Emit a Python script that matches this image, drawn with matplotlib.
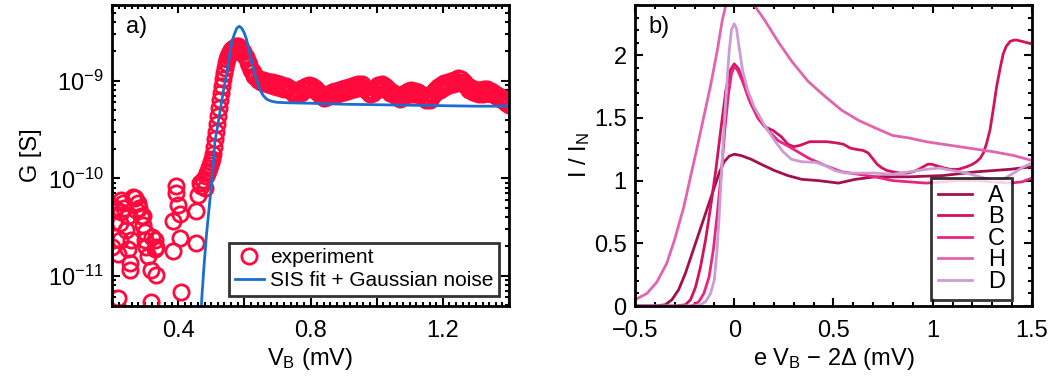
import numpy as np
import matplotlib
import matplotlib.pyplot as plt
from matplotlib.ticker import MultipleLocator, FixedLocator, NullFormatter

matplotlib.use('Agg')

# ---- panel a) data: bias voltage (mV) and log10 of conductance (S) ----
# scattered noise floor below the gap edge
low_vb = [0.200, 0.205, 0.210, 0.218, 0.218, 0.223, 0.223, 0.227, 0.227, 0.232,
          0.237, 0.242, 0.248, 0.248, 0.253, 0.253, 0.257, 0.263, 0.268, 0.272,
          0.277, 0.282, 0.288, 0.293, 0.293, 0.299, 0.299, 0.304, 0.309, 0.318,
          0.318, 0.322, 0.329, 0.329, 0.333, 0.334, 0.384, 0.384, 0.394, 0.394,
          0.399, 0.405, 0.405, 0.408, 0.454, 0.454, 0.460, 0.465, 0.470, 0.475,
          0.480]
low_log10G = [-10.70, -10.45, -10.30, -11.23, -10.78, -10.63, -10.46, -10.35, -10.22, -10.25,
              -10.30, -10.53, -10.73, -10.39, -10.87, -10.94, -10.63, -10.19, -10.20, -10.33,
              -10.25, -10.30, -10.39, -10.39, -10.48, -10.55, -10.63, -10.70, -10.80, -10.94,
              -11.27, -10.60, -10.63, -10.73, -10.70, -10.99, -10.75, -10.44, -10.08, -10.15,
              -10.27, -10.37, -10.61, -11.17, -10.34, -10.66, -10.17, -10.05, -10.08, -10.02,
              -10.10]

# gap edge and coherence peak
rise_vb = [0.485, 0.488, 0.491, 0.494, 0.497, 0.500, 0.503, 0.506, 0.509, 0.512,
           0.515, 0.518, 0.521, 0.524, 0.527, 0.530, 0.533, 0.536, 0.539, 0.542,
           0.545, 0.548, 0.551, 0.554, 0.557, 0.560, 0.564, 0.568, 0.572, 0.576,
           0.580, 0.584, 0.588, 0.592, 0.596]
rise_log10G = [-9.98, -9.95, -9.92, -9.89, -9.86, -9.83, -9.80, -9.75, -9.68, -9.60,
               -9.52, -9.44, -9.36, -9.28, -9.20, -9.12, -9.05, -8.98, -8.92, -8.87,
               -8.82, -8.78, -8.75, -8.72, -8.70, -8.68, -8.67, -8.66, -8.65, -8.64,
               -8.64, -8.65, -8.66, -8.68, -8.70]

# above the gap
high_vb = [0.600, 0.605, 0.610, 0.615, 0.620, 0.625, 0.630, 0.635, 0.640, 0.645,
           0.650, 0.655, 0.660, 0.665, 0.670, 0.675, 0.680, 0.685, 0.690, 0.695,
           0.700, 0.705, 0.710, 0.715, 0.720, 0.725, 0.730, 0.735, 0.740, 0.745,
           0.750, 0.755, 0.760, 0.765, 0.770, 0.775, 0.780, 0.785, 0.790, 0.795,
           0.800, 0.805, 0.810, 0.815, 0.820, 0.825, 0.830, 0.835, 0.840, 0.845,
           0.850, 0.855, 0.860, 0.865, 0.870, 0.875, 0.880, 0.885, 0.890, 0.895,
           0.900, 0.905, 0.910, 0.915, 0.920, 0.925, 0.930, 0.935, 0.940, 0.945,
           0.950, 0.955, 0.960, 0.965, 0.970, 0.975, 0.980, 0.985, 0.990, 0.995,
           1.000, 1.005, 1.010, 1.015, 1.020, 1.025, 1.030, 1.035, 1.040, 1.045,
           1.050, 1.055, 1.060, 1.065, 1.070, 1.075, 1.080, 1.085, 1.090, 1.095,
           1.100, 1.105, 1.110, 1.115, 1.120, 1.125, 1.130, 1.135, 1.140, 1.145,
           1.150, 1.155, 1.160, 1.165, 1.170, 1.175, 1.180, 1.185, 1.190, 1.195,
           1.200, 1.205, 1.210, 1.215, 1.220, 1.225, 1.230, 1.235, 1.240, 1.245,
           1.250, 1.255, 1.260, 1.265, 1.270, 1.275, 1.280, 1.285, 1.290, 1.295,
           1.300, 1.305, 1.310, 1.315, 1.320, 1.325, 1.330, 1.335, 1.340, 1.345,
           1.350, 1.355, 1.360, 1.365, 1.370, 1.375, 1.380, 1.385, 1.390, 1.395,
           1.400]
high_log10G = [-8.73, -8.76, -8.81, -8.84, -8.89, -8.91, -8.95, -8.96, -8.99, -8.98,
               -9.01, -8.99, -9.02, -9.00, -9.03, -9.01, -9.04, -9.01, -9.05, -9.02,
               -9.06, -9.03, -9.07, -9.04, -9.08, -9.05, -9.08, -9.07, -9.10, -9.10,
               -9.13, -9.11, -9.14, -9.10, -9.12, -9.07, -9.09, -9.05, -9.07, -9.04,
               -9.07, -9.05, -9.09, -9.07, -9.11, -9.11, -9.15, -9.14, -9.18, -9.15,
               -9.17, -9.13, -9.15, -9.11, -9.14, -9.10, -9.13, -9.09, -9.12, -9.08,
               -9.11, -9.07, -9.10, -9.06, -9.09, -9.05, -9.08, -9.04, -9.07, -9.03,
               -9.06, -9.03, -9.07, -9.07, -9.10, -9.10, -9.13, -9.10, -9.12, -9.07,
               -9.09, -9.04, -9.07, -9.03, -9.06, -9.05, -9.09, -9.08, -9.12, -9.11,
               -9.14, -9.14, -9.17, -9.16, -9.19, -9.15, -9.17, -9.12, -9.14, -9.10,
               -9.13, -9.09, -9.13, -9.10, -9.14, -9.11, -9.15, -9.13, -9.17, -9.16,
               -9.20, -9.17, -9.20, -9.14, -9.15, -9.09, -9.11, -9.06, -9.09, -9.04,
               -9.07, -9.02, -9.05, -9.01, -9.04, -9.00, -9.03, -8.99, -9.02, -8.97,
               -9.01, -8.98, -9.02, -9.01, -9.05, -9.05, -9.09, -9.07, -9.11, -9.08,
               -9.12, -9.09, -9.13, -9.09, -9.13, -9.08, -9.12, -9.08, -9.12, -9.10,
               -9.14, -9.12, -9.16, -9.15, -9.18, -9.17, -9.20, -9.20, -9.23, -9.22,
               -9.25]

fit_vb = [0.465, 0.471, 0.478, 0.486, 0.496, 0.505, 0.511, 0.520, 0.527, 0.537,
          0.547, 0.555, 0.562, 0.570, 0.577, 0.585, 0.592, 0.600, 0.607, 0.616,
          0.626, 0.637, 0.647, 0.657, 0.668, 0.683, 0.698, 0.730, 0.800, 0.900,
          1.000, 1.100, 1.200, 1.300, 1.400]
fit_log10G = [-11.80, -11.25, -10.90, -10.56, -10.22, -9.90, -9.62, -9.45, -9.30, -9.10,
              -8.92, -8.74, -8.60, -8.52, -8.46, -8.44, -8.46, -8.51, -8.58, -8.71,
              -8.86, -8.99, -9.09, -9.15, -9.19, -9.21, -9.22, -9.225, -9.23, -9.24,
              -9.245, -9.25, -9.255, -9.26, -9.26]

# ---- panel b) data: e V_B - 2Delta (mV) and normalised current I / I_N ----
A_x = [-0.50, -0.40, -0.347, -0.314, -0.28, -0.246, -0.212, -0.178, -0.144, -0.11,
       -0.076, -0.051, -0.025, 0.0, 0.034, 0.085, 0.136, 0.203, 0.27, 0.34,
       0.424, 0.525, 0.61, 0.71, 0.88, 1.05, 1.22, 1.39, 1.50]
A_y = [0.0, 0.0, 0.01, 0.05, 0.13, 0.26, 0.42, 0.58, 0.74, 0.90,
       1.06, 1.15, 1.195, 1.21, 1.20, 1.17, 1.13, 1.08, 1.04, 1.01,
       1.00, 0.98, 1.01, 1.03, 1.03, 1.04, 1.07, 1.09, 1.11]

B_x = [-0.50, -0.30, -0.246, -0.22, -0.195, -0.17, -0.144, -0.119, -0.093, -0.068,
       -0.042, -0.02, 0.0, 0.022, 0.05, 0.085, 0.119, 0.153, 0.195, 0.237,
       0.27, 0.30, 0.33, 0.38, 0.42, 0.466, 0.516, 0.55, 0.583, 0.61,
       0.65, 0.675, 0.70, 0.72, 0.745, 0.77, 0.80, 0.835, 0.87, 0.90,
       0.93, 0.952, 0.975, 0.995, 1.015, 1.036, 1.06, 1.087, 1.13, 1.171,
       1.20, 1.22, 1.24, 1.255, 1.27, 1.288, 1.305, 1.322, 1.34, 1.355,
       1.37, 1.39, 1.41, 1.423, 1.45, 1.473, 1.50]
B_y = [0.0, 0.0, 0.01, 0.05, 0.15, 0.31, 0.53, 0.79, 1.08, 1.40,
       1.72, 1.88, 1.93, 1.89, 1.77, 1.61, 1.50, 1.43, 1.40, 1.35,
       1.29, 1.27, 1.28, 1.31, 1.31, 1.31, 1.30, 1.29, 1.26, 1.25,
       1.24, 1.22, 1.17, 1.13, 1.10, 1.08, 1.07, 1.06, 1.06, 1.07,
       1.09, 1.11, 1.13, 1.13, 1.12, 1.11, 1.10, 1.09, 1.09, 1.11,
       1.13, 1.15, 1.18, 1.22, 1.29, 1.40, 1.57, 1.75, 1.90, 2.01,
       2.07, 2.11, 2.12, 2.12, 2.11, 2.10, 2.09]

C_x = [-0.50, -0.22, -0.203, -0.178, -0.153, -0.127, -0.105, -0.085, -0.064, -0.046,
       -0.029, -0.014, 0.0, 0.017, 0.042, 0.076, 0.119, 0.17, 0.22, 0.288,
       0.373, 0.458, 0.542, 0.627, 0.71, 0.797, 0.88, 0.966, 1.05, 1.136,
       1.22, 1.305, 1.39, 1.45, 1.50]
C_y = [0.0, 0.0, 0.01, 0.035, 0.10, 0.23, 0.45, 0.74, 1.08, 1.43,
       1.69, 1.85, 1.91, 1.88, 1.79, 1.64, 1.51, 1.40, 1.32, 1.26,
       1.18, 1.12, 1.07, 1.05, 1.03, 1.00, 0.99, 0.98, 0.99, 1.00,
       1.00, 0.99, 0.98, 0.99, 1.02]

H_x = [-0.50, -0.44, -0.39, -0.34, -0.30, -0.254, -0.22, -0.186, -0.153, -0.12,
       -0.085, -0.06, -0.042, -0.02, 0.0, 0.03, 0.06, 0.10, 0.153, 0.22,
       0.29, 0.373, 0.458, 0.542, 0.627, 0.71, 0.797, 0.88, 0.966, 1.05,
       1.136, 1.22, 1.305, 1.407, 1.50]
H_y = [0.05, 0.10, 0.19, 0.34, 0.53, 0.79, 1.03, 1.27, 1.51, 1.75,
       2.04, 2.28, 2.40, 2.48, 2.52, 2.50, 2.46, 2.40, 2.28, 2.11,
       1.95, 1.79, 1.67, 1.56, 1.48, 1.42, 1.36, 1.34, 1.31, 1.29,
       1.27, 1.25, 1.23, 1.20, 1.16]

D_x = [-0.50, -0.20, -0.17, -0.144, -0.119, -0.10, -0.088, -0.076, -0.064, -0.051,
       -0.037, -0.025, -0.014, 0.0, 0.012, 0.025, 0.042, 0.068, 0.10, 0.153,
       0.203, 0.246, 0.288, 0.34, 0.41, 0.458, 0.508, 0.56, 0.627, 0.71,
       0.797, 0.88, 0.966, 1.034, 1.10, 1.17, 1.237, 1.305, 1.356, 1.407,
       1.458, 1.50]
D_y = [0.0, 0.0, 0.01, 0.035, 0.10, 0.21, 0.42, 0.71, 1.06, 1.43,
       1.77, 2.04, 2.20, 2.25, 2.21, 2.06, 1.88, 1.72, 1.59, 1.44,
       1.32, 1.23, 1.17, 1.15, 1.145, 1.12, 1.08, 1.06, 1.06, 1.06,
       1.05, 1.07, 1.09, 1.10, 1.08, 1.06, 1.03, 1.00, 1.01, 1.06,
       1.11, 1.14]

curve_labels = ['A', 'B', 'C', 'H', 'D']
curve_colors = ['#A3104F', '#D2135E', '#E8267F', '#E264AE', '#CC9CD2']

plt.rcParams['font.family'] = ['Liberation Sans', 'DejaVu Sans']
plt.rcParams['mathtext.fontset'] = 'custom'
plt.rcParams['mathtext.rm'] = 'Liberation Sans'
plt.rcParams['mathtext.it'] = 'Liberation Sans'
plt.rcParams['mathtext.default'] = 'regular'
plt.rcParams['font.size'] = 17
plt.rcParams['axes.linewidth'] = 2

FS = 17


def style_ticks(ax):
    ax.tick_params(which='both', direction='in', top=True, right=True, width=1.5)
    ax.tick_params(which='major', length=6, labelsize=FS)
    ax.tick_params(axis='x', which='major', pad=10)
    ax.tick_params(axis='y', which='major', pad=6)
    ax.tick_params(which='minor', length=3)


fig = plt.figure(figsize=(10.49, 3.83), dpi=100)
ax_a = fig.add_axes([0.1068, 0.201, 0.3784, 0.786])
ax_b = fig.add_axes([0.6053, 0.201, 0.3785, 0.786])

# panel a
exp_vb = low_vb + rise_vb + high_vb
exp_log10G = low_log10G + rise_log10G + high_log10G
ax_a.plot(exp_vb, np.power(10.0, exp_log10G), 'o', mfc='none', mec='#FF0A3C',
          ms=11, mew=2.0, label='experiment')
ax_a.plot(fit_vb, np.power(10.0, fit_log10G), '-', color='#1A6FCC', lw=2,
          label='SIS fit + Gaussian noise')
ax_a.set_yscale('log')
ax_a.set_xlim(0.2, 1.4)
ax_a.set_ylim(4.9e-12, 6e-9)
ax_a.set_xticks([0.2, 0.4, 0.6, 0.8, 1.0, 1.2, 1.4])
ax_a.set_xticklabels(['', '0.4', '', '0.8', '', '1.2', ''])
ax_a.xaxis.set_minor_locator(MultipleLocator(0.02))
ax_a.set_yticks([1e-11, 1e-10, 1e-9])
ax_a.set_yticklabels(['$10^{\u221211}$', '$10^{\u221210}$', '$10^{\u22129}$'])
minor_y = [m * 10.0 ** e for e in (-12, -11, -10, -9) for m in range(2, 10)]
ax_a.yaxis.set_minor_locator(FixedLocator(minor_y))
ax_a.yaxis.set_minor_formatter(NullFormatter())
style_ticks(ax_a)
ax_a.set_xlabel('V$_B$ (mV)', fontsize=FS, labelpad=3)
ax_a.set_ylabel('G [S]', fontsize=FS, labelpad=4)
ax_a.text(0.035, 0.965, 'a)', transform=ax_a.transAxes, ha='left', va='top', fontsize=FS)
leg_a = ax_a.legend(loc='lower right', frameon=True, fancybox=False, edgecolor='black',
                    fontsize=15, handlelength=1.4, borderpad=0.25, labelspacing=0.2,
                    handletextpad=0.3, borderaxespad=0.5)
leg_a.get_frame().set_linewidth(2)

# panel b
for xs, ys, lab, col in zip([A_x, B_x, C_x, H_x, D_x], [A_y, B_y, C_y, H_y, D_y],
                            curve_labels, curve_colors):
    ax_b.plot(xs, ys, '-', color=col, lw=2, label=lab)
ax_b.set_xlim(-0.5, 1.5)
ax_b.set_ylim(0, 2.4)
ax_b.set_xticks([-0.5, 0, 0.5, 1, 1.5])
ax_b.set_xticklabels(['\u22120.5', '0', '0.5', '1', '1.5'])
ax_b.set_yticks([0, 0.5, 1, 1.5, 2])
ax_b.set_yticklabels(['0', '0.5', '1', '1.5', '2'])
ax_b.xaxis.set_minor_locator(MultipleLocator(0.1))
ax_b.yaxis.set_minor_locator(MultipleLocator(0.1))
style_ticks(ax_b)
ax_b.set_xlabel('e V$_B$ \u2212 2\u0394 (mV)', fontsize=FS, labelpad=3)
ax_b.set_ylabel('I / I$_N$', fontsize=FS, labelpad=1)
ax_b.text(0.035, 0.965, 'b)', transform=ax_b.transAxes, ha='left', va='top', fontsize=FS)
leg_b = ax_b.legend(loc='lower right', bbox_to_anchor=(0.95, 0.02), frameon=True,
                    fancybox=False, edgecolor='black', fontsize=FS, handlelength=1.4,
                    borderpad=0.3, labelspacing=-0.02, handletextpad=0.7,
                    borderaxespad=0.0)
leg_b.get_frame().set_linewidth(2)

fig.savefig('out.png', dpi=100)
